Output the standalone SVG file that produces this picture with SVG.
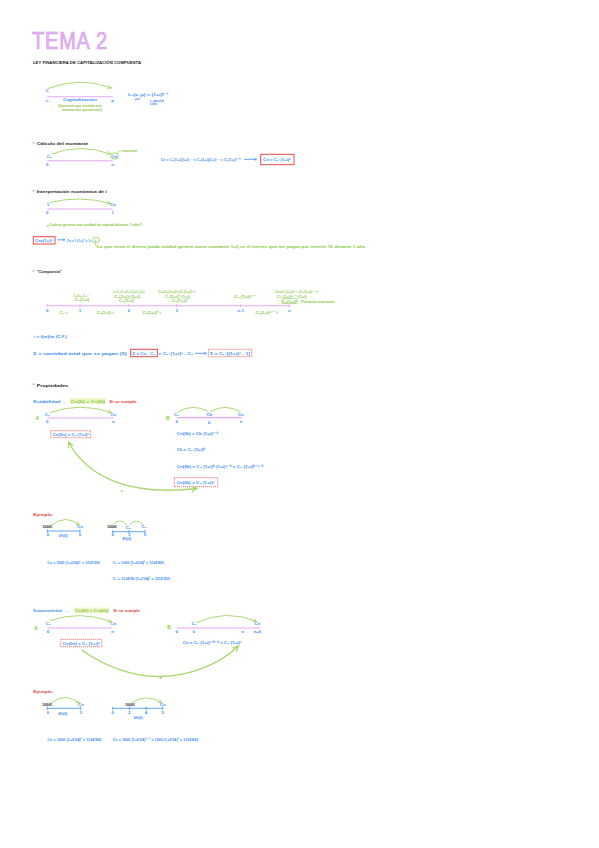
<svg xmlns="http://www.w3.org/2000/svg" width="599" height="848" viewBox="0 0 599 848">
<defs>
<style>
text{font-family:"Liberation Sans","DejaVu Sans",Arial,sans-serif;font-size:4.4px;font-weight:bold}
.b{fill:#3a8ef2}.g{fill:#86c840}.r{fill:#e23a3a}.k{fill:#1e1e1e}.p{fill:#e6b8f5}
.tl{stroke:#e4a8f3;stroke-width:1.1;fill:none}
.bl{stroke:#3a8ef2;stroke-width:0.8;fill:none}
.arc{stroke:#a2d563;stroke-width:0.9;fill:none}
.big{stroke:#a8d86c;stroke-width:1.4;fill:none}
.rbox{stroke:#e24b4b;stroke-width:1;fill:#fff}
.rdash{stroke:#e86a6a;stroke-width:0.9;fill:#fff;stroke-dasharray:1.2 0.8}
.hl{fill:#eef6c8}
.bul{fill:#e8c2f4}
.m{text-anchor:middle}
.sm{font-size:3.4px}
</style>
<marker id="ah" viewBox="0 0 10 10" refX="9" refY="5" markerWidth="5" markerHeight="5" orient="auto-start-reverse"><path d="M1 1 L9 5 L1 9" fill="none" stroke="#a2d563" stroke-width="1.6"/></marker>
<marker id="ab" viewBox="0 0 10 10" refX="9" refY="5" markerWidth="4" markerHeight="4" orient="auto"><path d="M1 1 L9 5 L1 9" fill="none" stroke="#3a8ef2" stroke-width="1.8"/></marker>
</defs>
<rect width="599" height="848" fill="#fff"/>

<g id="title">
<text x="32" y="49" class="p" style="font-size:23px;font-weight:normal;letter-spacing:1px" stroke="#d490ec" stroke-width="0.6" textLength="76" lengthAdjust="spacingAndGlyphs">TEMA 2</text>
<text x="33" y="64" class="k" textLength="108" lengthAdjust="spacingAndGlyphs">LEY FINANCIERA DE CAPITALIZACIÓN COMPUESTA</text>
</g>

<g id="capitalizacion">
<path class="arc" d="M48 88.5 Q80 76 111.5 88" marker-end="url(#ah)"/>
<text x="47" y="92" class="b m">C</text>
<line class="tl" x1="47.3" y1="96.7" x2="112.7" y2="96.7"/>
<text x="47.3" y="102" class="b m">t₁</text>
<text x="80" y="101" class="b m" textLength="34" lengthAdjust="spacingAndGlyphs">Capitalización</text>
<text x="112.5" y="102" class="b m">p</text>
<text x="80" y="106.5" class="g m" textLength="44" lengthAdjust="spacingAndGlyphs">(Operación que traslada a un</text>
<text x="82" y="111" class="g m" textLength="40" lengthAdjust="spacingAndGlyphs">momento posterior)</text>
<text x="128" y="96" class="b" textLength="40" lengthAdjust="spacingAndGlyphs">L₂(t₁;p) = (1+i)ᵖ⁻ᵗ</text>
<text x="135" y="100.3" class="b" style="font-size:3.2px">p≥t</text>
<text x="150" y="101.5" class="b" style="font-size:3.2px">t₂ parcial</text>
<text x="150" y="104.8" class="b" style="font-size:3.2px">cont.</text>
</g>

<g id="calculo-montante">
<circle cx="33.6" cy="143" r="1.3" class="bul"/>
<text x="36.7" y="145" class="k" textLength="51.6" lengthAdjust="spacingAndGlyphs">Cálculo del montante</text>
<path class="arc" d="M51.5 154 Q80 143 110.5 154" marker-end="url(#ah)"/>
<text x="49.3" y="157.5" class="b m">C₀</text>
<text x="114.3" y="157.5" class="b m">Cn</text>
<ellipse cx="114.4" cy="156" rx="3.8" ry="3.2" class="arc"/>
<path class="arc" d="M117 153.5 Q119 151 121.5 150.5"/>
<text x="122" y="151.5" class="g" style="font-size:3.4px">montante</text>
<line class="tl" x1="47.3" y1="160.7" x2="112.7" y2="160.7"/>
<text x="47.3" y="166" class="b m">0</text>
<text x="112.7" y="166" class="b m">n</text>
<text x="160.7" y="160.8" class="b" textLength="80" lengthAdjust="spacingAndGlyphs">Cn = C₀(1+i)(1+i)··· = C₀(1+i)(1+i)··· = C₀(1+i)ⁿ⁻⁰</text>
<line x1="244" y1="159.3" x2="256.5" y2="159.3" class="bl" marker-end="url(#ab)"/>
<rect x="260.7" y="154.3" width="33.3" height="10.4" class="rbox"/>
<text x="263" y="161.2" class="b" textLength="28" lengthAdjust="spacingAndGlyphs">Cn = C₀·(1+i)ⁿ</text>
</g>

<g id="interpretacion">
<circle cx="33.6" cy="190.7" r="1.3" class="bul"/>
<text x="36.7" y="192.5" class="k" textLength="70" lengthAdjust="spacingAndGlyphs">Interpretación económica de  i</text>
<path class="arc" d="M50 202.5 Q80 195 110.5 203.5" marker-end="url(#ah)"/>
<text x="48" y="205.5" class="b m">1</text>
<text x="112.7" y="205.5" class="b m">Cn</text>
<line class="tl" x1="47.3" y1="209" x2="112.7" y2="209"/>
<text x="47.3" y="214" class="b m">0</text>
<text x="112.7" y="214" class="b m">1</text>
<text x="46.7" y="225.5" class="g" textLength="95" lengthAdjust="spacingAndGlyphs">¿Cuánto genera una unidad de capital durante 1 año?</text>
<rect x="33.3" y="236.7" width="21.7" height="7.3" class="rbox"/>
<text x="35" y="242" class="b" textLength="18" lengthAdjust="spacingAndGlyphs">Cn=(1+i)ⁿ</text>
<line x1="57.3" y1="239.8" x2="65" y2="239.8" class="bl" marker-end="url(#ab)"/>
<text x="66.7" y="241.8" class="b" textLength="25" lengthAdjust="spacingAndGlyphs">Cn = 1·(1+i)¹ = 1+</text>
<text x="95" y="241.8" class="b">i</text>
<ellipse cx="96" cy="240" rx="3.6" ry="2.9" class="arc"/>
<path class="arc" d="M94.5 242.8 Q95.5 246 97 246.5"/>
<text x="97" y="248" class="g" textLength="268" lengthAdjust="spacingAndGlyphs">Lo que renta el dinero (cada unidad genera como montante 1+i) es el interés que me pagan por invertir 1€ durante 1 año</text>
</g>

<g id="compuesta">
<circle cx="33.6" cy="271" r="1.3" class="bul"/>
<text x="36.7" y="273" class="k" textLength="25" lengthAdjust="spacingAndGlyphs">"Compuesta"</text>
<line class="tl" x1="47.3" y1="305.7" x2="290" y2="305.7"/>
<g stroke="#e4a8f3" stroke-width="0.8">
<line x1="47.3" y1="304" x2="47.3" y2="307.4"/><line x1="80" y1="304" x2="80" y2="307.4"/><line x1="128.7" y1="304" x2="128.7" y2="307.4"/><line x1="176.7" y1="304" x2="176.7" y2="307.4"/><line x1="240.7" y1="304" x2="240.7" y2="307.4"/><line x1="289.3" y1="304" x2="289.3" y2="307.4"/>
</g>
<text x="47.3" y="311.5" class="b m">0</text>
<text x="80" y="311.5" class="b m">1</text>
<text x="128.7" y="311.5" class="b m">2</text>
<text x="176.7" y="311.5" class="b m">3</text>
<text x="240.7" y="311.5" class="b m">n-1</text>
<text x="289.3" y="311.5" class="b m">n</text>
<text x="63.5" y="313.5" class="g m">C₀·i</text>
<text x="105" y="313.5" class="g m">C₀(1+i)·i</text>
<text x="151.7" y="313.5" class="g m">C₀(1+i)²·i</text>
<text x="266.7" y="313.5" class="g m">C₀(1+i)ⁿ⁻¹·i</text>
<text x="81" y="296.5" class="g m sm" textLength="15" lengthAdjust="spacingAndGlyphs">C₁=C₀+C₀·i</text>
<text x="82" y="301" class="g m">C₀(1+i)</text>
<text x="129" y="292.8" class="g m sm" textLength="32" lengthAdjust="spacingAndGlyphs">C₂=C₁+C₁·i=C₀(1+i)+C₀(1+i)·i</text>
<text x="127" y="297.5" class="g m" textLength="26" lengthAdjust="spacingAndGlyphs">C₀(1+i)·(1+i)</text>
<text x="127" y="302.2" class="g m">C₀(1+i)²</text>
<text x="176.5" y="292.8" class="g m sm" textLength="37" lengthAdjust="spacingAndGlyphs">C₃=C₀(1+i)²+C₀(1+i)²·i</text>
<text x="177.5" y="297.5" class="g m" textLength="25" lengthAdjust="spacingAndGlyphs">C₀(1+i)²·(1+i)</text>
<text x="180" y="302.2" class="g m">C₀(1+i)³</text>
<text x="245" y="297.5" class="g m">C₀·(1+i)ⁿ⁻¹</text>
<text x="296.5" y="292.8" class="g m sm" textLength="43" lengthAdjust="spacingAndGlyphs">Cn=C₀(1+i)ⁿ⁻¹+C₀(1+i)ⁿ⁻¹·i</text>
<text x="291.7" y="297.5" class="g m" textLength="30" lengthAdjust="spacingAndGlyphs">C₀·(1+i)ⁿ⁻¹·(1+i)</text>
<rect x="282" y="298.8" width="15" height="4.6" fill="none" stroke="#86c840" stroke-width="0.5"/>
<text x="289.5" y="302.6" class="g m">C₀(1+i)ⁿ</text>
<text x="297.5" y="302.6" class="g" textLength="37" lengthAdjust="spacingAndGlyphs">→Fórmula montante</text>
<text x="34" y="338" class="b" textLength="33" lengthAdjust="spacingAndGlyphs">i = i(m)/m (C.F.)</text>
</g>

<g id="intereses">
<text x="33.3" y="354.8" class="b" textLength="93.4" lengthAdjust="spacingAndGlyphs">Σ = cantidad total que se pagan (€)</text>
<rect x="130.7" y="349.3" width="26.6" height="7.4" class="rbox"/>
<text x="132.5" y="354.8" class="b" textLength="23" lengthAdjust="spacingAndGlyphs">Σ = Cn - C₀</text>
<text x="158.3" y="354.8" class="b" textLength="35" lengthAdjust="spacingAndGlyphs">= C₀·(1+i)ⁿ - C₀</text>
<line x1="195" y1="353.3" x2="206.5" y2="353.3" class="bl" marker-end="url(#ab)"/>
<rect x="208.3" y="349.3" width="43.4" height="7.4" class="rdash"/>
<text x="210" y="354.8" class="b" textLength="40" lengthAdjust="spacingAndGlyphs">Σ = C₀·[(1+i)ⁿ - 1]</text>
</g>

<g id="propiedades">
<circle cx="33.6" cy="384.3" r="1.3" class="bul"/>
<text x="36.7" y="386.5" class="k" textLength="31.6" lengthAdjust="spacingAndGlyphs">Propiedades</text>
<text x="33.3" y="402.5" class="b sm" textLength="27" lengthAdjust="spacingAndGlyphs">Estabilidad</text>
<text x="62" y="402.5" class="b sm">→</text>
<rect x="70" y="398" width="35.5" height="5.8" class="hl"/>
<text x="70.7" y="402.5" class="g" textLength="34.3" lengthAdjust="spacingAndGlyphs">Cn(0t) = Cn(0t)</text>
<text x="109.3" y="402.5" class="r" textLength="27.4" lengthAdjust="spacingAndGlyphs">Sí se cumple</text>
</g>

<g id="estabilidad-A">
<text x="37.3" y="419.5" class="g m" style="font-size:5px">A</text>
<path class="arc" d="M50 412.5 Q80 402 111.5 412.5" marker-end="url(#ah)"/>
<text x="47.3" y="415.5" class="b m">C₀</text>
<text x="113.3" y="415.5" class="b m">Cn</text>
<line class="tl" x1="47.3" y1="418" x2="113.3" y2="418"/>
<text x="47.3" y="423" class="b m">0</text>
<text x="113.3" y="423" class="b m">n</text>
<rect x="50.7" y="430.7" width="40" height="7" class="rdash"/>
<text x="52.5" y="436" class="b" textLength="36.5" lengthAdjust="spacingAndGlyphs">Cn(0n) = C₀·(1+i)ⁿ</text>
</g>

<g id="estabilidad-B">
<text x="167.7" y="419.5" class="g m" style="font-size:5px">B</text>
<path class="arc" d="M177.5 412 Q193 403 208.5 411.5"/>
<path class="arc" d="M210.5 411.5 Q226 403 240.5 412"/>
<text x="176.7" y="415.5" class="b m">C₀</text>
<text x="209.3" y="415.5" class="b m">Ck</text>
<text x="240.7" y="415.5" class="b m">Cn</text>
<line class="tl" x1="176.7" y1="417.6" x2="241.7" y2="417.6"/>
<text x="176.7" y="423" class="b m">0</text>
<text x="209.3" y="423.5" class="b m">k</text>
<text x="241" y="423" class="b m">n</text>
<text x="176.7" y="434.5" class="b" textLength="41.6" lengthAdjust="spacingAndGlyphs">Cn(0k) = Ck·(1+i)ⁿ⁻ᵏ</text>
<text x="176.7" y="450.5" class="b" textLength="28.3" lengthAdjust="spacingAndGlyphs">Ck = C₀·(1+i)ᵏ</text>
<text x="176.7" y="467.5" class="b" textLength="86.6" lengthAdjust="spacingAndGlyphs">Cn(0k) = C₀·(1+i)ᵏ·(1+i)ⁿ⁻ᵏ = C₀·(1+i)ᵏ⁺ⁿ⁻ᵏ</text>
<rect x="174.3" y="477.7" width="43.4" height="9" class="rdash"/>
<text x="176.5" y="484" class="b" textLength="38" lengthAdjust="spacingAndGlyphs">Cn(0k) = C₀·(1+i)ⁿ</text>
</g>

<g id="connectors">
<path class="big" d="M68.5 442 C88 478 130 496 197 488.5" marker-start="url(#ah)" marker-end="url(#ah)"/>
<text x="121.7" y="492" class="g m">=</text>
<path class="big" d="M81.7 650 C105 667 135 677 160 676.5 C190 676 220 664 238.3 646" marker-end="url(#ah)"/>
<text x="160.7" y="679" class="g m">=</text>
</g>

<g id="ejemplo-1">
<text x="33.3" y="515.5" class="r" textLength="20" lengthAdjust="spacingAndGlyphs">Ejemplo:</text>
<path class="arc" d="M51.7 525 Q66 514 79.3 525" marker-end="url(#ah)"/>
<text x="47.3" y="528" class="k m" style="font-size:3.6px">1000€</text>
<text x="80" y="528" class="b m">Cn</text>
<line class="bl" x1="47.3" y1="531" x2="80" y2="531"/>
<line class="bl" x1="47.3" y1="529.5" x2="47.3" y2="532.5"/><line class="bl" x1="80" y1="529.5" x2="80" y2="532.5"/>
<text x="48" y="536" class="b m">0</text>
<text x="80" y="536" class="b m">5</text>
<text x="63.3" y="536.5" class="b m" style="font-size:3.4px">4%(6)</text>
<path class="arc" d="M113.5 524.5 Q120 517 127 525"/>
<path class="arc" d="M130 524.5 Q137 517 143.5 525.5"/>
<text x="112" y="528" class="k m" style="font-size:3.6px">1000€</text>
<text x="128.3" y="528.5" class="b m">C₃</text>
<text x="144" y="528" class="b m">C₅</text>
<line class="bl" x1="112.7" y1="531.7" x2="145" y2="531.7"/>
<line class="bl" x1="112.7" y1="530.2" x2="112.7" y2="533.2"/><line class="bl" x1="129" y1="530.2" x2="129" y2="533.2"/><line class="bl" x1="145" y1="530.2" x2="145" y2="533.2"/>
<text x="112.7" y="536" class="b m">0</text>
<text x="129.3" y="536" class="b m">3</text>
<text x="145" y="536" class="b m">5</text>
<text x="126.7" y="540" class="b m" style="font-size:3.4px">4%(6)</text>
<text x="47.3" y="563.5" class="b" textLength="52.7" lengthAdjust="spacingAndGlyphs">Cn = 1000·(1+0'04)⁵ = 1216'65€</text>
<text x="112.7" y="563.5" class="b" textLength="51.3" lengthAdjust="spacingAndGlyphs">C₃ = 1000·(1+0'04)³ = 1124'86€</text>
<text x="112.7" y="579.5" class="b" textLength="57.3" lengthAdjust="spacingAndGlyphs">C₅ = 1124'86·(1+0'04)² = 1216'65€</text>
</g>

<g id="estacionariedad">
<text x="33.3" y="612" class="b sm" textLength="28.4" lengthAdjust="spacingAndGlyphs">Estacionariedad</text>
<text x="64.5" y="612" class="b sm">→</text>
<rect x="74.3" y="607.5" width="34.7" height="5.8" class="hl"/>
<text x="75" y="612" class="g" textLength="33.3" lengthAdjust="spacingAndGlyphs">Cn(0t) = Cn(kk)</text>
<text x="113.3" y="612" class="r" textLength="26.7" lengthAdjust="spacingAndGlyphs">Sí se cumple</text>
</g>

<g id="estacionariedad-A">
<text x="35.7" y="629.5" class="g m" style="font-size:5px">A</text>
<path class="arc" d="M50 620.7 Q80 610 111.5 621.8" marker-end="url(#ah)"/>
<text x="48.3" y="624.5" class="b m">C₀</text>
<text x="113.3" y="624.5" class="b m">Cn</text>
<line class="tl" x1="47.3" y1="628" x2="112.7" y2="628"/>
<text x="48" y="633" class="b m">0</text>
<text x="112.7" y="633" class="b m">n</text>
<rect x="60.7" y="639.3" width="41" height="7.4" class="rdash"/>
<text x="62.5" y="644.8" class="b" textLength="37.5" lengthAdjust="spacingAndGlyphs">Cn(0n) = C₀·(1+i)ⁿ</text>
</g>

<g id="estacionariedad-B">
<text x="169" y="628.5" class="g m" style="font-size:5px">B</text>
<path class="arc" d="M196.7 622.5 Q226 609 256.5 621.3" marker-end="url(#ah)"/>
<text x="194" y="625" class="b m">C₀</text>
<text x="257.3" y="625" class="b m">Cn</text>
<line class="tl" x1="176.7" y1="628" x2="260" y2="628"/>
<text x="176.7" y="633" class="b m">0</text>
<text x="194" y="633" class="b m">k</text>
<text x="242.7" y="633" class="b m">n</text>
<text x="257.3" y="633" class="b m">n+k</text>
<text x="182.7" y="643.8" class="b" textLength="59" lengthAdjust="spacingAndGlyphs">Cn = C₀·(1+i)ⁿ⁺ᵏ⁻ᵏ = C₀·(1+i)ⁿ</text>
</g>

<g id="ejemplo-2">
<text x="33.3" y="693" class="r" textLength="20" lengthAdjust="spacingAndGlyphs">Ejemplo:</text>
<path class="arc" d="M51.7 702.7 Q66 692 79.3 703.3" marker-end="url(#ah)"/>
<text x="47.3" y="705.5" class="k m" style="font-size:3.6px">1000€</text>
<text x="81" y="706" class="b m">Cn</text>
<line class="bl" x1="47.3" y1="708.3" x2="80.7" y2="708.3"/>
<line class="bl" x1="47.3" y1="706.8" x2="47.3" y2="709.8"/><line class="bl" x1="80.7" y1="706.8" x2="80.7" y2="709.8"/>
<text x="48" y="713.5" class="b m">0</text>
<text x="80.7" y="713.5" class="b m">3</text>
<text x="62.7" y="715" class="b m" style="font-size:3.4px">4%(6)</text>
<path class="arc" d="M131.7 702.7 Q146 693 161.7 702.7" marker-end="url(#ah)"/>
<text x="130" y="705.5" class="k m" style="font-size:3.6px">1000€</text>
<text x="162.7" y="705.5" class="b m">Cn</text>
<line class="bl" x1="112.7" y1="708.3" x2="162.7" y2="708.3"/>
<line class="bl" x1="112.7" y1="706.8" x2="112.7" y2="709.8"/><line class="bl" x1="129.3" y1="706.8" x2="129.3" y2="709.8"/><line class="bl" x1="146" y1="706.8" x2="146" y2="709.8"/><line class="bl" x1="162.7" y1="706.8" x2="162.7" y2="709.8"/>
<text x="112.7" y="713.5" class="b m">0</text>
<text x="129.3" y="713.5" class="b m">2</text>
<text x="146" y="713.5" class="b m">4</text>
<text x="162.7" y="713.5" class="b m">5</text>
<text x="138.3" y="719.3" class="b m" style="font-size:3.4px">4%(6)</text>
<text x="47.3" y="740.5" class="b" textLength="54.4" lengthAdjust="spacingAndGlyphs">Cn = 1000·(1+0'04)³ = 1124'86€</text>
<text x="112.7" y="740.5" class="b" textLength="85.6" lengthAdjust="spacingAndGlyphs">Cn = 1000·(1+0'04)⁵⁻² = 1000·(1+0'04)³ = 1124'86€</text>
</g>
</svg>
